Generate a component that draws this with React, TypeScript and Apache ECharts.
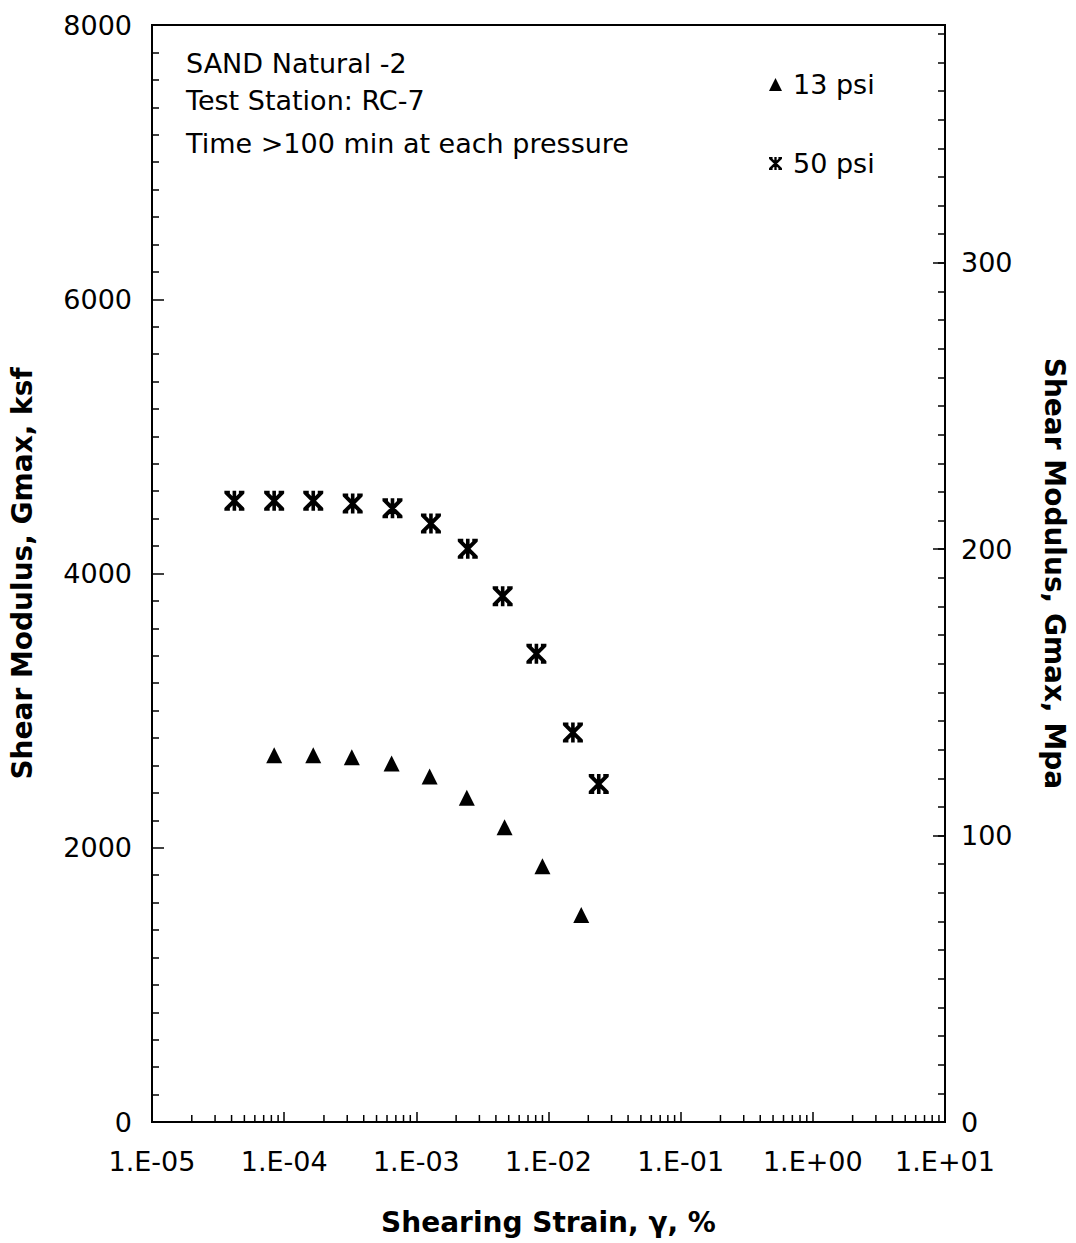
import React, { useEffect, useRef } from "react";
import * as echarts from "echarts";

// 50 psi series (asterisks)
const strain50 = [4.2e-5, 8.4e-5, 1.66e-4, 3.3e-4, 6.6e-4, 1.29e-3, 2.45e-3, 4.5e-3, 8.1e-3, 1.53e-2, 2.4e-2];
const gmax50 = [4530, 4530, 4530, 4510, 4475, 4365, 4180, 3835, 3415, 2840, 2465];
// 13 psi series (triangles)
const strain13 = [8.4e-5, 1.66e-4, 3.25e-4, 6.5e-4, 1.26e-3, 2.41e-3, 4.65e-3, 9.0e-3, 1.77e-2];
const gmax13 = [2675, 2675, 2660, 2615, 2520, 2365, 2150, 1865, 1510];

const seriesNames = ["13 psi", "50 psi"];
const noteLines = ["SAND Natural -2", "Test Station: RC-7", "Time >100 min at each pressure"];
const decades = [-5, -4, -3, -2, -1, 0];
const minorMultipliers = [2, 3, 4, 5, 6, 7, 8, 9];

const KSF_TO_MPA = 0.0478803;
const Y_MAX = 8000;

const FONT = "DejaVu Sans";

const ASTERISK =
  "path://M8.2 0H11.8V20H8.2Z M0.2 3L3 0.2L19.8 17L17 19.8Z M17 0.2L19.8 3L3 19.8L0.2 17Z M0 0H5.5V2.8H0Z M14.5 0H20V2.8H14.5Z M0 17.2H5.5V20H0Z M14.5 17.2H20V20H14.5Z";

function fmtExp(v: number): string {
  const e = Math.round(Math.log10(v));
  const s = e < 0 ? "-" : "+";
  return "1.E" + s + String(Math.abs(e)).padStart(2, "0");
}

export default function App() {
  const ref = useRef<HTMLDivElement>(null);
  useEffect(() => {
    if (!ref.current) return;
    const chart = echarts.init(ref.current, null, { renderer: "svg" });
    const minorTicks: number[][] = [];
    decades.forEach((d) => minorMultipliers.forEach((m) => minorTicks.push([m * Math.pow(10, d), 0])));

    const option: any = {
      animation: false,
      backgroundColor: "#fff",
      textStyle: { fontFamily: FONT, color: "#000" },
      grid: {
        left: 152,
        right: 128,
        top: 25,
        bottom: 121,
        show: true,
        borderColor: "#000",
        borderWidth: 2,
        containLabel: false,
      },
      legend: {
        data: seriesNames,
        orient: "vertical",
        left: 764,
        top: 66,
        itemWidth: 13,
        itemHeight: 13,
        itemGap: 52,
        itemStyle: { opacity: 1 },
        textStyle: { fontFamily: FONT, fontSize: 27, color: "#000", padding: [0, 0, 0, 6] },
      },
      xAxis: {
        type: "log",
        logBase: 10,
        min: 1e-5,
        max: 10,
        splitNumber: 6,
        name: "Shearing Strain, γ, %",
        nameLocation: "middle",
        nameGap: 86,
        nameTextStyle: { fontFamily: FONT, fontSize: 28, fontWeight: "bold", color: "#000" },
        axisLine: { show: true, lineStyle: { color: "#000", width: 2 } },
        axisTick: { show: true, inside: true, length: 10, lineStyle: { color: "#000", width: 1.5 } },
        axisLabel: {
          margin: 26,
          fontFamily: FONT,
          fontSize: 27,
          color: "#000",
          formatter: (v: number) => fmtExp(v),
        },
        splitLine: { show: false },
      },
      yAxis: [
        {
          type: "value",
          min: 0,
          max: Y_MAX,
          interval: 2000,
          position: "left",
          name: "Shear Modulus, Gmax, ksf",
          nameLocation: "middle",
          nameRotate: 90,
          nameGap: 116,
          nameTextStyle: { fontFamily: FONT, fontSize: 28, fontWeight: "bold", color: "#000" },
          axisLine: { show: true, lineStyle: { color: "#000", width: 2 } },
          axisTick: { show: true, inside: true, length: 12, lineStyle: { color: "#000", width: 1.5 } },
          minorTick: { show: true, splitNumber: 10, length: 7, lineStyle: { color: "#000", width: 1.5 } },
          axisLabel: {
            margin: 20,
            fontFamily: FONT,
            fontSize: 27,
            color: "#000",
            formatter: (v: number) => String(v),
          },
          splitLine: { show: false },
        },
        {
          type: "value",
          min: 0,
          max: Y_MAX * KSF_TO_MPA,
          interval: 100,
          position: "right",
          name: "Shear Modulus, Gmax, Mpa",
          nameLocation: "middle",
          nameRotate: -90,
          nameGap: 95,
          nameTextStyle: { fontFamily: FONT, fontSize: 28, fontWeight: "bold", color: "#000" },
          axisLine: { show: true, lineStyle: { color: "#000", width: 2 } },
          axisTick: { show: true, inside: true, length: 12, lineStyle: { color: "#000", width: 1.5 } },
          axisLabel: { margin: 16, fontFamily: FONT, fontSize: 27, color: "#000", showMaxLabel: false },
          splitLine: { show: false },
        },
        {
          type: "value",
          min: 0,
          max: Y_MAX * KSF_TO_MPA,
          interval: 10,
          position: "right",
          axisLine: { show: false },
          axisTick: { show: true, inside: true, length: 7, lineStyle: { color: "#000", width: 1.5 } },
          axisLabel: { show: false },
          splitLine: { show: false },
        },
      ],
      graphic: noteLines.map((t, i) => ({
        type: "text",
        left: 186,
        top: [50, 87, 130][i],
        style: { text: t, font: `27px "${FONT}"`, fill: "#000" },
        silent: true,
      })),
      series: [
        {
          name: seriesNames[0],
          type: "scatter",
          xAxisIndex: 0,
          yAxisIndex: 0,
          symbol: "triangle",
          symbolSize: [16, 16],
          itemStyle: { color: "#000", opacity: 1 },
          data: strain13.map((x, i) => [x, gmax13[i]]),
        },
        {
          name: seriesNames[1],
          type: "scatter",
          xAxisIndex: 0,
          yAxisIndex: 0,
          symbol: ASTERISK,
          symbolSize: [20, 20],
          itemStyle: { color: "#000", opacity: 1 },
          data: strain50.map((x, i) => [x, gmax50[i]]),
        },
        {
          type: "custom",
          xAxisIndex: 0,
          yAxisIndex: 0,
          silent: true,
          clip: false,
          data: minorTicks,
          renderItem: (_p: any, api: any) => {
            const pt = api.coord([api.value(0), 0]);
            return {
              type: "line",
              shape: { x1: pt[0], y1: pt[1], x2: pt[0], y2: pt[1] - 7 },
              style: { stroke: "#000", lineWidth: 1.5 },
            };
          },
        },
      ],
    };
    chart.setOption(option);
    return () => chart.dispose();
  }, []);
  return (
    <div
      ref={ref}
      style={{ position: "fixed", left: 0, top: 0, width: 1076, height: 1243, background: "#fff" }}
    />
  );
}
